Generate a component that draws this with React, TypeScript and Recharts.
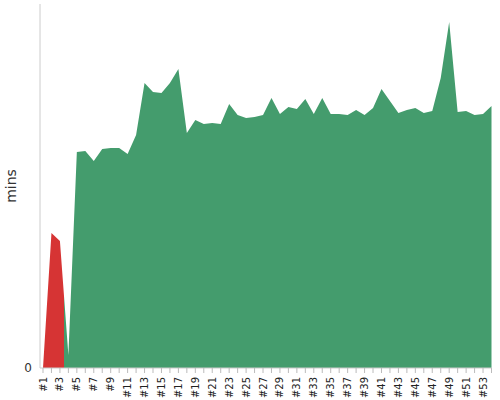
import React from 'react';
import { AreaChart, Area, XAxis, YAxis } from 'recharts';

// run labels and duration per run (mins)
const runs = [
  '#1', '#2', '#3', '#4', '#5', '#6', '#7', '#8', '#9', '#10',
  '#11', '#12', '#13', '#14', '#15', '#16', '#17', '#18', '#19', '#20',
  '#21', '#22', '#23', '#24', '#25', '#26', '#27', '#28', '#29', '#30',
  '#31', '#32', '#33', '#34', '#35', '#36', '#37', '#38', '#39', '#40',
  '#41', '#42', '#43', '#44', '#45', '#46', '#47', '#48', '#49', '#50',
  '#51', '#52', '#53', '#54',
];
const durations = [
  0, 13.5, 12.7, 1.3, 21.6, 21.7, 20.7, 21.9, 22.0, 22.0,
  21.4, 23.3, 28.5, 27.6, 27.5, 28.5, 29.9, 23.5, 24.8, 24.4,
  24.5, 24.4, 26.4, 25.3, 25.0, 25.1, 25.3, 27.0, 25.4, 26.1,
  25.9, 26.9, 25.4, 27.0, 25.4, 25.4, 25.3, 25.8, 25.3, 26.0,
  27.9, 26.7, 25.5, 25.8, 26.0, 25.5, 25.7, 29.0, 34.6, 25.6,
  25.7, 25.3, 25.4, 26.2,
];
// first runs failed (drawn red)
const failedRuns = 3;
const yTicks = [0];

const data = runs.map((name, i) => ({ name, value: durations[i] }));

const FONT = '"DejaVu Sans", sans-serif';
const RED = '#d63434';
const GREEN = '#449c6d';

const RunTick = (props: any) => {
  const { x, y, payload, index } = props;
  if (index % 2 !== 0) return null;
  return (
    <text
      transform={`translate(${x},${y}) rotate(-90)`}
      textAnchor="end"
      dominantBaseline="central"
      fontSize={10}
      fontFamily={FONT}
      fill="#222"
    >
      {payload.value}
    </text>
  );
};

export default function App() {
  const split = (failedRuns - 0.5) / (runs.length - 1);
  return (
    <div style={{ position: 'absolute', left: 0, top: 0 }}>
      <AreaChart width={500} height={400} data={data} margin={{ top: 4, right: 8, bottom: 0, left: 0 }}>
        <defs>
          <linearGradient id="runFill" x1="0" y1="0" x2="1" y2="0">
            <stop offset={0} stopColor={RED} />
            <stop offset={split} stopColor={RED} />
            <stop offset={split} stopColor={GREEN} />
            <stop offset={1} stopColor={GREEN} />
          </linearGradient>
        </defs>
        <XAxis
          dataKey="name"
          interval={0}
          height={32}
          padding={{ left: 3, right: 0.5 }}
          axisLine={{ stroke: '#ccc' }}
          tickLine={{ stroke: '#bbb' }}
          tickSize={5}
          tickMargin={4}
          tick={<RunTick />}
        />
        <YAxis
          width={40}
          domain={[0, 36.4]}
          ticks={yTicks}
          axisLine={{ stroke: '#ccc' }}
          tickLine={false}
          tick={{ fontSize: 12, fontFamily: FONT, fill: '#333' }}
          label={{ value: 'mins', angle: -90, position: 'insideLeft', dx: 6, style: { fontSize: 14, fontFamily: FONT, fill: '#333', textAnchor: 'middle' } }}
        />
        <Area
          type="linear"
          dataKey="value"
          stroke="none"
          fill="url(#runFill)"
          fillOpacity={1}
          isAnimationActive={false}
        />
      </AreaChart>
    </div>
  );
}
